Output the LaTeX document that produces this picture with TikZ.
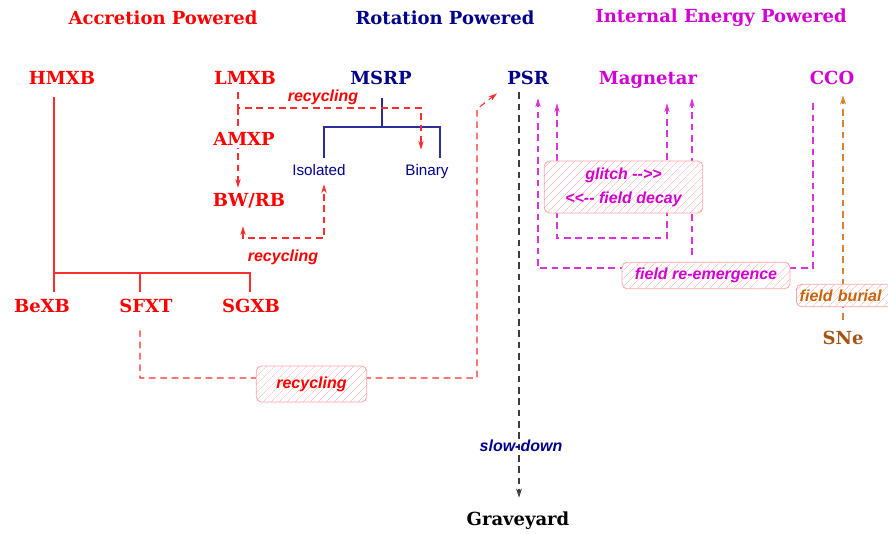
\documentclass[tikz,border=0pt]{standalone}
\usepackage{fontspec}
\newfontfamily\labfont{Liberation Sans}
\newfontfamily\headfont{DejaVu Serif}
\usetikzlibrary{arrows.meta,patterns.meta,backgrounds}
\definecolor{redc}{RGB}{255,0,0}
\definecolor{redl}{RGB}{255,45,45}
\definecolor{navyc}{RGB}{0,0,140}
\definecolor{navyl}{RGB}{45,45,150}
\definecolor{magc}{RGB}{210,0,210}
\definecolor{magl}{RGB}{220,50,220}
\definecolor{snec}{RGB}{165,82,20}
\definecolor{burc}{RGB}{200,100,10}
\definecolor{burl}{RGB}{215,130,50}
\definecolor{boxc}{RGB}{255,165,165}
\definecolor{hatchc}{RGB}{255,195,195}
\definecolor{darkl}{RGB}{60,60,60}
\tikzset{
  title/.style={font=\headfont\bfseries\fontsize{13.5}{16}\selectfont, inner sep=2pt},
  obj/.style={font=\headfont\bfseries\fontsize{13.5}{16}\selectfont, inner sep=2pt, text height=10pt, text depth=0pt},
  lab/.style={font=\labfont\bfseries\itshape\fontsize{12}{18}\selectfont, inner sep=1pt},
  sub/.style={font=\labfont\fontsize{11.4}{13}\selectfont, text=navyc, inner sep=2pt, text height=8.5pt, text depth=2.2pt},
  hbox/.style={lab, draw=boxc, line width=0.6pt, rounded corners=4pt,
    preaction={fill=white}, pattern={Lines[angle=45,distance=4pt,line width=0.4pt]}, pattern color=hatchc},
  solidl/.style={line width=0.8pt},
  dashl/.style={line width=0.8pt, dash pattern=on 5pt off 3.5pt},
  tipf/.style={-{Stealth[length=6.5pt,width=4pt,inset=2pt]}},
  tipff/.style={{Stealth[length=6.5pt,width=4pt,inset=2pt]}-{Stealth[length=6.5pt,width=4pt,inset=2pt]}},
  tipo/.style={-{Stealth[open,length=7pt,width=4.5pt]}}
}
\begin{document}
\begin{tikzpicture}[x=0.75pt,y=-0.75pt]
\useasboundingbox (0,0) rectangle (888,534);
% titles
\node[title,text=redc] (acc) at (163,18) {Accretion Powered};
\node[title,text=navyc] (rot) at (445,18) {Rotation Powered};
\node[title,text=magc] (ien) at (721,18) {Internal Energy Powered};
% objects
\node[obj,text=redc] (hmxb) at (62,78) {HMXB};
\node[obj,text=redc] (lmxb) at (245,78) {LMXB};
\node[obj,text=navyc] (msrp) at (381,78) {MSRP};
\node[obj,text=navyc] (psr) at (528,78) {PSR};
\node[obj,text=magc] (magn) at (648,78) {Magnetar};
\node[obj,text=magc] (cco) at (832,78) {CCO};
\node[obj,text=redc,fill=white] (amxp) at (244,139) {AMXP};
\node[obj,text=redc] (bwrb) at (249,200) {BW/RB};
\node[sub] (iso) at (319,171) {Isolated};
\node[sub] (bin) at (427,171) {Binary};
\node[obj,text=redc] (bexb) at (42,306) {BeXB};
\node[obj,text=redc] (sfxt) at (146,306) {SFXT};
\node[obj,text=redc] (sgxb) at (251,306) {SGXB};
\node[obj,text=snec] (sne) at (843,338) {SNe};
\node[obj,text=black] (grave) at (518,519) {Graveyard};
% labels
\node[lab,text=redc] (rc1) at (323,97) {recycling};
\node[lab,text=redc] (rc2) at (283,257) {recycling};
\node[hbox,text=redc,minimum width=83pt,minimum height=27pt] (rc3) at (311.5,384) {recycling};
\node[hbox,text=magc,minimum width=119pt,minimum height=39pt,align=center] (glitch) at (623.5,187) {glitch -{}->>\\<<-{}- field decay};
\node[hbox,text=magc,minimum width=126pt,minimum height=20pt] (reem) at (706,275.5) {field re-emergence};
\node[hbox,text=burc,anchor=west,minimum height=17pt,inner xsep=2.5pt,text width=76pt,align=left] (bur) at (796,295.5) {field burial};
\node[lab,text=navyc] (slow) at (521,446) {slow-down};
% connectors
\begin{scope}[on background layer]
% HMXB tree
\coordinate (hj) at (54,273);
\coordinate (sfj) at (140,273);
\coordinate (sgj) at (250,273);
\draw[solidl,redl,shorten <=7pt,shorten >=3pt] (hj |- hmxb.south) -- (hj) -- (sgj) -- (sgj |- sgxb.north);
\draw[solidl,redl,shorten >=3pt] (hj) -- (hj |- bexb.north);
\draw[solidl,redl,shorten >=3pt] (sfj) -- (sfj |- sfxt.north);
% MSRP tree
\coordinate (mj) at (382,127);
\coordinate (mi) at (324,127);
\coordinate (mb) at (440,127);
\draw[solidl,navyl,shorten <=8pt] (mj |- msrp.south) -- (mj);
\draw[solidl,navyl,shorten <=2.4pt,shorten >=2.4pt] (mi |- iso.north) -- (mi) -- (mb) -- (mb |- bin.north);
% LMXB recycling
\coordinate (lj) at (238,108);
\coordinate (lb) at (421,108);
\draw[dashl,redl,tipf,shorten <=3.5pt,shorten >=8.4pt] (lj |- lmxb.south) -- (lj) -- (lb) -- (lb |- bin.north);
\draw[dashl,redl,tipf,shorten >=2pt] (lj) -- (lj |- bwrb.north);
% BW/RB <-> Isolated
\coordinate (bj) at (243,238);
\coordinate (ij) at (324,238);
\draw[dashl,redl,tipff,shorten <=12.5pt,shorten >=2.4pt] (bj |- bwrb.south) -- (bj) -- (ij) -- (ij |- iso.south);
% SFXT -> PSR
\coordinate (s1) at (140,378);
\coordinate (s2) at (477,378);
\coordinate (s3) at (477,109);
\draw[dashl,redl,tipf,shorten <=11pt,shorten >=7pt] (s1 |- sfxt.south) -- (s1) -- (s2) -- (s3) -- (psr.south west);
% slow-down
\coordinate (sd) at (519,300);
\draw[dashl,darkl,tipo,shorten <=3.5pt,shorten >=8.8pt] (sd |- psr.south) -- (sd |- grave.north);
% glitch / field decay
\coordinate (g1) at (557,238);
\coordinate (g2) at (667,238);
\draw[dashl,magl,tipff,shorten <=11.8pt,shorten >=11.8pt] (g1 |- psr.south) -- (g1) -- (g2) -- (g2 |- magn.south);
% field re-emergence
\coordinate (r1) at (538,268);
\coordinate (r2) at (813,268);
\coordinate (r3) at (692,268);
\draw[dashl,magl,tipf,shorten <=11.8pt,shorten >=8pt] (r2 |- cco.south) -- (r2) -- (r1) -- (r1 |- psr.south);
\draw[dashl,magl,tipf,shorten <=5pt,shorten >=8pt] (r3 |- reem.north) -- (r3 |- magn.south);
% field burial
\coordinate (oj) at (843,200);
\draw[dashl,burl,tipo,shorten <=6.5pt,shorten >=5.8pt] (oj |- sne.north) -- (oj |- cco.south);
\end{scope}
\end{tikzpicture}
\end{document}
